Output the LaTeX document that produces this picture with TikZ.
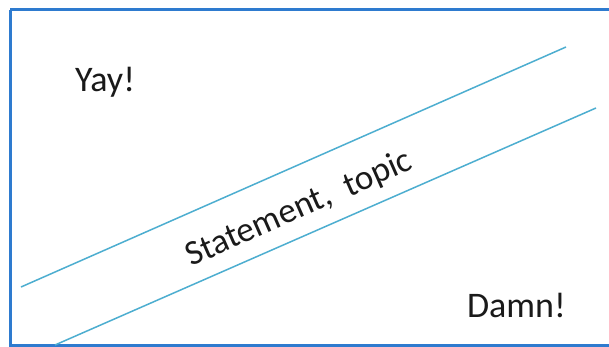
\documentclass[tikz,border=0pt]{standalone}
\usepackage{fontspec}
\setmainfont{Carlito}
\definecolor{frameblue}{HTML}{2E7BCF}
\definecolor{lineblue}{HTML}{4DAED0}
\definecolor{txt}{HTML}{1A1A1A}
\begin{document}
\begin{tikzpicture}[x=1pt,y=-1pt,
  lbl/.style={font=\fontsize{36}{42}\selectfont, text=txt, inner sep=0pt},
  band/.style={draw=lineblue, line width=1.5pt}]
\useasboundingbox (0,0) rectangle (609,347);
\fill[white] (0,0) rectangle (609,347);
\draw[frameblue, line width=3pt] (10,10) -- (640,10) (10,10) -- (10,345) -- (640,345);
\coordinate (u1) at (21,287);
\coordinate (u2) at (566,47);
\coordinate (l1) at (55,345);
\coordinate (l2) at (596,108);
\draw[band] (u1) -- (u2);
\draw[band] (l1) -- (l2);
\node[lbl, anchor=base west] (yay) at (75,92) {Yay!};
\node[lbl, anchor=base east] (damn) at (566,317) {Damn!};
\node[lbl, rotate=23.8, font=\fontsize{35}{42}\selectfont] (st) at (299,209) {Statement,\ \ topic};
\end{tikzpicture}
\end{document}
